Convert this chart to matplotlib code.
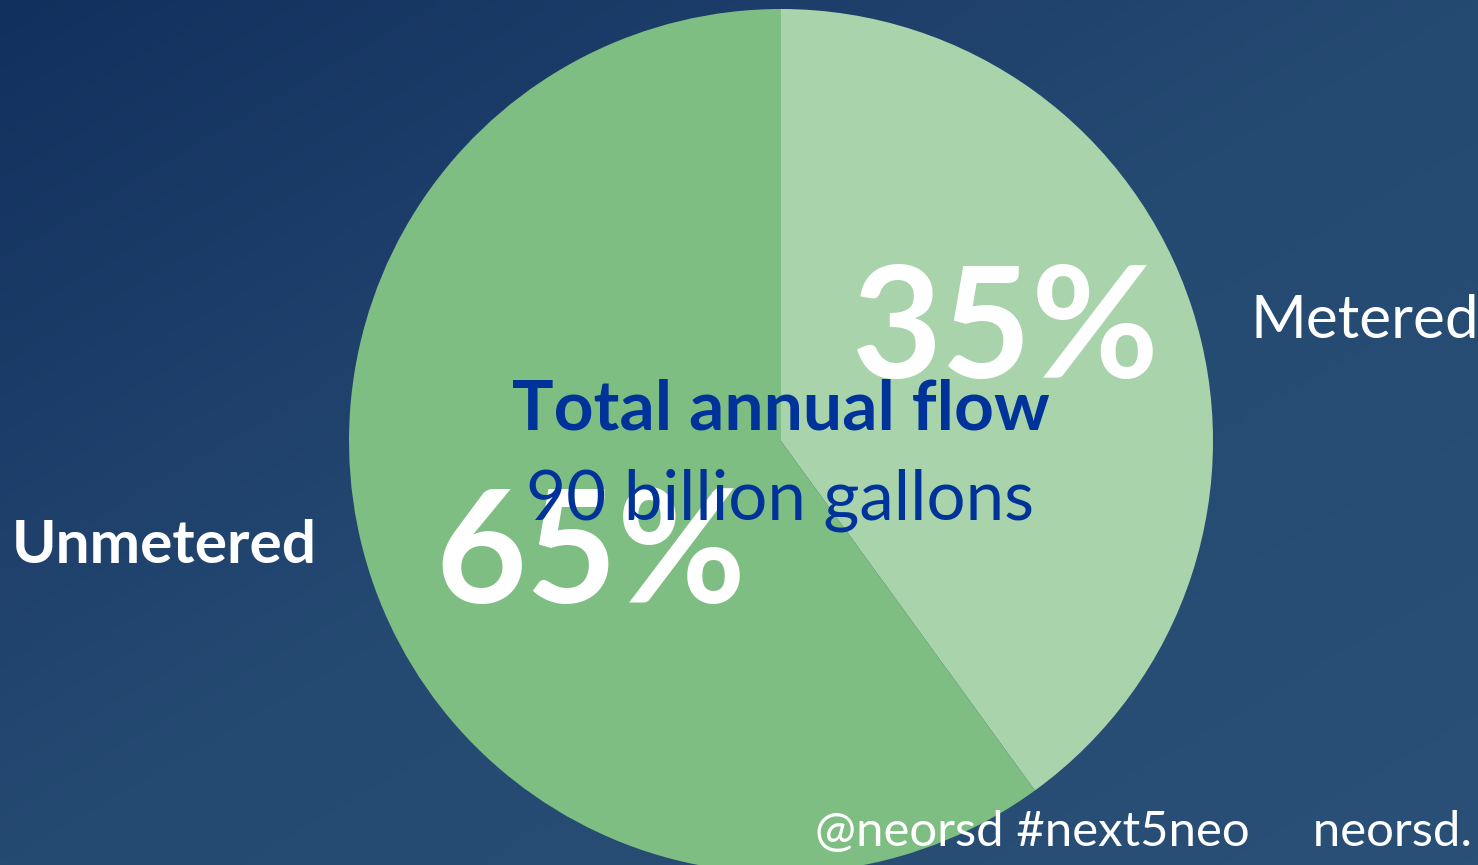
import numpy as np
from matplotlib import pyplot as plt
from matplotlib.colors import LinearSegmentedColormap

# pie data (clockwise from 12 o'clock)
categories = ["Metered", "Unmetered"]
shares = [40, 60]            # wedge sizes as drawn
share_labels = ["35%", "65%"]
slice_colors = ["#a9d4ab", "#7fbe82"]
center_title = "Total annual flow"
center_sub = "90 billion gallons"
footer = "@neorsd #next5neo     neorsd."

W, H = 1478, 865
plt.rcParams['font.family'] = ['Lato', 'DejaVu Sans']

fig = plt.figure(figsize=(W / 100, H / 100), dpi=100)
ax = fig.add_axes([0, 0, 1, 1])

# background gradient, dark navy top-left to lighter blue
bg = LinearSegmentedColormap.from_list(
    "bg", [(0, "#12305d"), (0.25, "#1c3d69"), (0.5, "#254a72"), (1, "#2a5077")])
xx, yy = np.meshgrid(np.linspace(0, 1, 300), np.linspace(0, 1, 200))
ax.imshow((xx + yy) / 2, cmap=bg, extent=(0, W, 0, H), origin="upper",
          aspect="auto", zorder=0)

ax.pie(shares, colors=slice_colors, startangle=90, counterclock=False,
       center=(781, H - 441), radius=432, frame=True,
       wedgeprops=dict(linewidth=0), normalize=True)

ax.set_xlim(0, W)
ax.set_ylim(0, H)
ax.axis("off")

white = "white"
blue = "#003399"
ax.text(852, H - 378, share_labels[0], color=white, fontsize=112,
        fontweight="bold", ha="left", va="baseline")
ax.text(435, H - 603, share_labels[1], color=white, fontsize=113,
        fontweight="bold", ha="left", va="baseline")
ax.text(781, H - 430, center_title, color=blue, fontsize=50,
        fontweight="bold", ha="center", va="baseline")
ax.text(780, H - 520, center_sub, color=blue, fontsize=49.7,
        ha="center", va="baseline")
ax.text(1250, H - 338, categories[0], color=white, fontsize=43.4,
        ha="left", va="baseline")
ax.text(12, H - 563, categories[1], color=white, fontsize=43.4,
        fontweight="bold", ha="left", va="baseline")
ax.text(815, H - 846, footer, color=white, fontsize=35.4,
        ha="left", va="baseline")

fig.savefig("out.png", dpi=100)
